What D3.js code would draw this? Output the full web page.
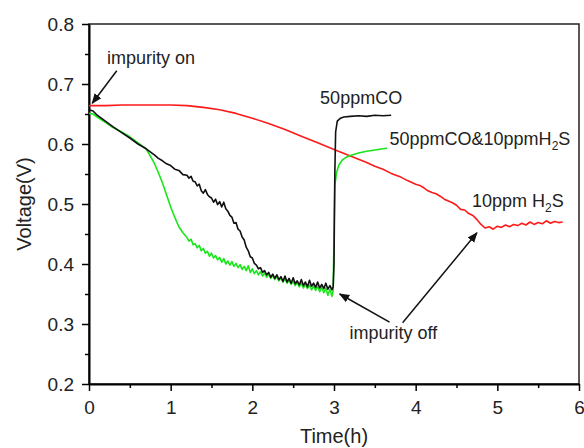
<!DOCTYPE html>
<html>
<head>
<meta charset="utf-8">
<script src="https://cdn.jsdelivr.net/npm/d3@7"></script>
<style>
  body { margin: 0; background: #fff; }
  text { font-family: "Liberation Sans", Arial, sans-serif; }
</style>
</head>
<body>
<div id="chart"></div>
<script>
// Time (h) and voltage (V), one pair of arrays per curve
const timeCO = [0, 0.05, 0.1, 0.2, 0.3, 0.4, 0.5, 0.6, 0.7, 0.8, 0.85, 0.9, 0.95, 1.0, 1.05, 1.1, 1.15,
  1.2, 1.225, 1.25, 1.275, 1.3, 1.325, 1.35, 1.375, 1.4, 1.425, 1.45, 1.475, 1.5, 1.525, 1.55, 1.575, 1.6, 1.625, 1.65, 1.675,
  1.7, 1.725, 1.75, 1.775, 1.8, 1.825, 1.85, 1.875, 1.9, 1.925, 1.95, 1.975, 2.0, 2.025, 2.05, 2.075, 2.1, 2.125, 2.15, 2.175,
  2.2, 2.225, 2.25, 2.275, 2.3, 2.325, 2.35, 2.375, 2.4, 2.425, 2.45, 2.475, 2.5, 2.525, 2.55, 2.575, 2.6, 2.625, 2.65, 2.675,
  2.7, 2.725, 2.75, 2.775, 2.8, 2.825, 2.85, 2.875, 2.9, 2.925, 2.95, 2.975, 2.99,
  3.0, 3.01, 3.02, 3.04, 3.08, 3.12, 3.2, 3.3, 3.4, 3.5, 3.6, 3.7]
const voltCO = [0.657, 0.655, 0.648, 0.638, 0.628, 0.619, 0.610, 0.600, 0.592, 0.582, 0.576, 0.572, 0.567, 0.564, 0.558, 0.556, 0.549,
  0.548, 0.543, 0.546, 0.538, 0.537, 0.530, 0.533, 0.522, 0.518, 0.524, 0.516, 0.512, 0.510, 0.503, 0.508, 0.499, 0.504, 0.495, 0.503, 0.492,
  0.488, 0.481, 0.478, 0.468, 0.469, 0.458, 0.455, 0.445, 0.440, 0.428, 0.422, 0.412, 0.410, 0.401, 0.398, 0.392, 0.394, 0.386, 0.389, 0.382,
  0.386, 0.378, 0.383, 0.376, 0.382, 0.374, 0.379, 0.371, 0.380, 0.370, 0.376, 0.368, 0.377, 0.367, 0.372, 0.365, 0.374, 0.364, 0.370, 0.362,
  0.373, 0.363, 0.368, 0.361, 0.370, 0.360, 0.366, 0.359, 0.368, 0.358, 0.364, 0.357, 0.362,
  0.40, 0.55, 0.62, 0.638, 0.643, 0.645, 0.646, 0.647, 0.646, 0.648, 0.647, 0.648]

const timeMix = [0, 0.05, 0.1, 0.2, 0.3, 0.4, 0.5, 0.6, 0.7, 0.75, 0.8, 0.85, 0.9, 0.95, 1.0, 1.05, 1.1, 1.15,
  1.2, 1.225, 1.25, 1.275, 1.3, 1.325, 1.35, 1.375, 1.4, 1.425, 1.45, 1.475, 1.5, 1.525, 1.55, 1.575, 1.6, 1.625, 1.65, 1.675,
  1.7, 1.725, 1.75, 1.775, 1.8, 1.825, 1.85, 1.875, 1.9, 1.925, 1.95, 1.975, 2.0, 2.025, 2.05, 2.075, 2.1, 2.125, 2.15, 2.175,
  2.2, 2.225, 2.25, 2.275, 2.3, 2.325, 2.35, 2.375, 2.4, 2.425, 2.45, 2.475, 2.5, 2.525, 2.55, 2.575, 2.6, 2.625, 2.65, 2.675,
  2.7, 2.725, 2.75, 2.775, 2.8, 2.825, 2.85, 2.875, 2.9, 2.925, 2.95, 2.975, 2.99,
  3.0, 3.01, 3.03, 3.06, 3.1, 3.15, 3.2, 3.3, 3.4, 3.5, 3.6, 3.65]
const voltMix = [0.651, 0.650, 0.645, 0.636, 0.627, 0.620, 0.612, 0.602, 0.592, 0.580, 0.568, 0.552, 0.535, 0.515, 0.495, 0.478, 0.462, 0.452,
  0.444, 0.438, 0.441, 0.432, 0.434, 0.427, 0.431, 0.422, 0.426, 0.418, 0.421, 0.413, 0.418, 0.410, 0.414, 0.407, 0.411, 0.403, 0.409, 0.400,
  0.405, 0.398, 0.404, 0.396, 0.401, 0.394, 0.399, 0.391, 0.396, 0.389, 0.397, 0.386, 0.392, 0.384, 0.389, 0.382, 0.387, 0.380, 0.385, 0.378,
  0.383, 0.376, 0.381, 0.374, 0.379, 0.372, 0.377, 0.370, 0.375, 0.368, 0.373, 0.366, 0.371, 0.364, 0.369, 0.362, 0.368, 0.360, 0.366, 0.359,
  0.365, 0.357, 0.363, 0.356, 0.363, 0.354, 0.361, 0.352, 0.360, 0.348, 0.358, 0.346, 0.356,
  0.45, 0.53, 0.552, 0.565, 0.573, 0.578, 0.581, 0.585, 0.588, 0.590, 0.592, 0.593]

const timeH2S = [0, 0.2, 0.4, 0.6, 0.8, 1.0, 1.2, 1.4, 1.6, 1.8, 2.0, 2.2, 2.4, 2.6, 2.8, 3.0, 3.2, 3.4, 3.5, 3.6, 3.7, 3.8, 3.9,
  4.0, 4.05, 4.1, 4.15, 4.2, 4.25, 4.3, 4.35, 4.4, 4.45, 4.5, 4.55, 4.6, 4.65, 4.7, 4.75, 4.8, 4.85, 4.9, 4.95,
  5.0, 5.05, 5.1, 5.15, 5.2, 5.25, 5.3, 5.35, 5.4, 5.45, 5.5, 5.55, 5.6, 5.65, 5.7, 5.75, 5.8]
const voltH2S = [0.664, 0.664, 0.665, 0.665, 0.665, 0.665, 0.664, 0.661, 0.657, 0.651, 0.643, 0.634, 0.624, 0.613, 0.602, 0.591, 0.580, 0.569, 0.563, 0.558, 0.551, 0.546, 0.539,
  0.533, 0.531, 0.527, 0.522, 0.519, 0.517, 0.513, 0.508, 0.505, 0.502, 0.498, 0.491, 0.490, 0.484, 0.481, 0.474, 0.466, 0.460,
  0.462, 0.458, 0.463, 0.461, 0.465, 0.462, 0.466, 0.464, 0.468, 0.465, 0.470, 0.466, 0.469, 0.467, 0.472, 0.468, 0.471, 0.469, 0.470]

const xTicks = [0, 1, 2, 3, 4, 5, 6]
const yTicks = [0.2, 0.3, 0.4, 0.5, 0.6, 0.7, 0.8]

const width = 584
const height = 448
const margin = {top: 24, right: 5, bottom: 64, left: 89}

let x = d3.scaleLinear().domain([0, 6]).range([margin.left, width - margin.right])
let y = d3.scaleLinear().domain([0.2, 0.8]).range([height - margin.bottom, margin.top])

let svg = d3.select('#chart')
  .append('svg')
  .attr('width', width)
  .attr('height', height)

// Frame on the top and right sides
svg.append('rect')
  .attr('x', x(0))
  .attr('y', y(0.8))
  .attr('width', x(6) - x(0))
  .attr('height', y(0.2) - y(0.8))
  .attr('fill', 'none')
  .attr('stroke', '#222')
  .attr('stroke-width', 1.5)

// Minor ticks first, the major axis draws over them
svg.append('g')
  .attr('transform', `translate(0, ${y(0.2)})`)
  .call(d3.axisBottom(x).tickValues(d3.range(0.5, 6, 1)).tickSize(4).tickFormat(''))
  .call(g => g.select('.domain').remove())
  .call(g => g.selectAll('.tick line').attr('stroke-width', 1.5))
svg.append('g')
  .attr('transform', `translate(${x(0)}, 0)`)
  .call(d3.axisLeft(y).tickValues(d3.range(0.25, 0.8, 0.1)).tickSize(4).tickFormat(''))
  .call(g => g.select('.domain').remove())
  .call(g => g.selectAll('.tick line').attr('stroke-width', 1.5))

svg.append('g')
  .attr('transform', `translate(0, ${y(0.2)})`)
  .call(d3.axisBottom(x).tickValues(xTicks).tickSize(7).tickSizeOuter(0).tickPadding(10).tickFormat(d3.format('d')))
  .call(g => g.select('.domain').attr('stroke-width', 2))
  .call(g => g.selectAll('.tick line').attr('stroke-width', 1.5))
  .call(g => g.selectAll('.tick text').attr('font-size', 19).attr('fill', '#222'))

svg.append('g')
  .attr('transform', `translate(${x(0)}, 0)`)
  .call(d3.axisLeft(y).tickValues(yTicks).tickSize(7).tickSizeOuter(0).tickPadding(8).tickFormat(d3.format('.1f')))
  .call(g => g.select('.domain').attr('stroke-width', 2))
  .call(g => g.selectAll('.tick line').attr('stroke-width', 1.5))
  .call(g => g.selectAll('.tick text').attr('font-size', 19).attr('fill', '#222'))

// Axis titles
svg.append('text')
  .attr('x', (x(0) + x(6)) / 2)
  .attr('y', 443)
  .attr('text-anchor', 'middle')
  .attr('font-size', 20)
  .attr('fill', '#222')
  .text('Time(h)')

svg.append('text')
  .attr('transform', `translate(31, ${(y(0.2) + y(0.8)) / 2}) rotate(-90)`)
  .attr('text-anchor', 'middle')
  .attr('font-size', 20)
  .attr('fill', '#222')
  .text('Voltage(V)')

// The three curves
let line = d3.line()
  .x(d => x(d[0]))
  .y(d => y(d[1]))

let series = [
  {time: timeH2S, volt: voltH2S, color: '#ff1a1a'},
  {time: timeMix, volt: voltMix, color: '#19e619'},
  {time: timeCO, volt: voltCO, color: '#111'}
]

svg.append('g')
  .selectAll('path')
  .data(series)
  .enter().append('path')
  .attr('d', s => line(s.time.map((t, i) => [t, s.volt[i]])))
  .attr('fill', 'none')
  .attr('stroke', s => s.color)
  .attr('stroke-width', 1.6)
  .attr('stroke-linejoin', 'round')

// Arrow head marker
svg.append('defs').append('marker')
  .attr('id', 'head')
  .attr('viewBox', '0 0 10 10')
  .attr('refX', 9)
  .attr('refY', 5)
  .attr('markerWidth', 7)
  .attr('markerHeight', 7)
  .attr('orient', 'auto')
  .append('path')
  .attr('d', 'M0,1 L10,5 L0,9 Z')
  .attr('fill', '#111')

let arrows = [
  {from: [0.34, 0.722], to: [0.04, 0.668]},
  {from: [3.68, 0.303], to: [3.07, 0.35]},
  {from: [3.84, 0.302], to: [4.75, 0.452]}
]

svg.append('g')
  .selectAll('line')
  .data(arrows)
  .enter().append('line')
  .attr('x1', a => x(a.from[0]))
  .attr('y1', a => y(a.from[1]))
  .attr('x2', a => x(a.to[0]))
  .attr('y2', a => y(a.to[1]))
  .attr('stroke', '#111')
  .attr('stroke-width', 1.5)
  .attr('marker-end', 'url(#head)')

// Annotation labels, sub holds the subscript digit
let labels = [
  {t: 0.22, v: 0.733, parts: [['impurity on']]},
  {t: 2.83, v: 0.667, parts: [['50ppmCO']]},
  {t: 3.68, v: 0.598, parts: [['50ppmCO&10ppmH'], ['2', 'sub'], ['S']]},
  {t: 4.69, v: 0.495, parts: [['10ppm H'], ['2', 'sub'], ['S']]},
  {t: 3.19, v: 0.275, parts: [['impurity off']]}
]

labels.forEach(l => {
  let txt = svg.append('text')
    .attr('x', x(l.t))
    .attr('y', y(l.v))
    .attr('font-size', 18)
    .attr('fill', '#222')
  l.parts.forEach(p => {
    let ts = txt.append('tspan').text(p[0])
    if (p[1] === 'sub') ts.attr('font-size', 12).attr('dy', 5)
    else if (txt.selectAll('tspan').size() > 1) ts.attr('dy', -5)
  })
})
</script>
</body>
</html>
